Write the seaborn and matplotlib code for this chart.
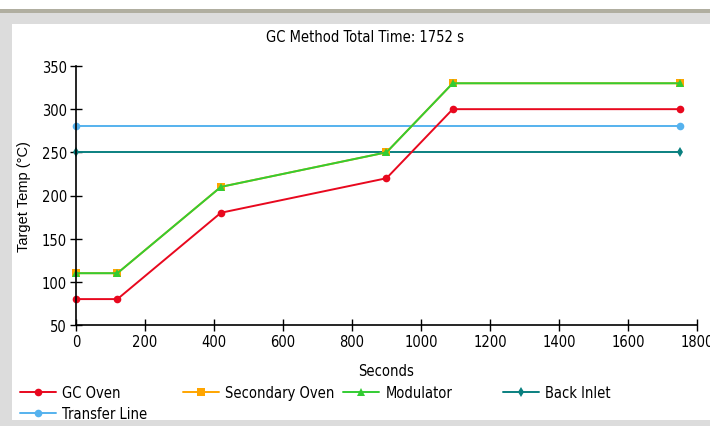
import matplotlib
matplotlib.use("Agg")
import matplotlib.pyplot as plt
import seaborn as sns
import pandas as pd
from matplotlib.patches import Rectangle
from matplotlib import font_manager as fm

# ---- data ----
title = "GC Method Total Time: 1752 s"
series_names = ["GC Oven", "Secondary Oven", "Modulator", "Back Inlet", "Transfer Line"]
oven_time = [0, 120, 420, 900, 1092, 1752]
gc_oven = [80, 80, 180, 220, 300, 300]
secondary_oven = [110, 110, 210, 250, 330, 330]
modulator = [110, 110, 210, 250, 330, 330]
inlet_time = [0, 1752]
back_inlet = [250, 250]
transfer_line = [280, 280]
x_ticks = [0, 200, 400, 600, 800, 1000, 1200, 1400, 1600, 1800]
y_ticks = [50, 100, 150, 200, 250, 300, 350]

colors = {"GC Oven": "#e8081e", "Secondary Oven": "#ffa500", "Modulator": "#33cc33",
          "Back Inlet": "#0a8080", "Transfer Line": "#55b2ee"}
markers = {"GC Oven": "o", "Secondary Oven": "s", "Modulator": "^",
           "Back Inlet": "d", "Transfer Line": "o"}
msize = {"GC Oven": 5.5, "Secondary Oven": 5.5, "Modulator": 5.5,
         "Back Inlet": 5, "Transfer Line": 5.5}

data = {
    "GC Oven": (oven_time, gc_oven),
    "Secondary Oven": (oven_time, secondary_oven),
    "Modulator": (oven_time, modulator),
    "Back Inlet": (inlet_time, back_inlet),
    "Transfer Line": (inlet_time, transfer_line),
}

sns.set_theme(style="white")
names = {f.name for f in fm.fontManager.ttflist}
if "Liberation Sans Narrow" in names:
    plt.rcParams["font.family"] = ["Liberation Sans Narrow", "DejaVu Sans"]
else:
    plt.rcParams["font.family"] = ["DejaVu Sans"]
    plt.rcParams["font.stretch"] = "condensed"

fig = plt.figure(figsize=(7.1, 4.27), dpi=100)
# window frame decorations
fig.patches.append(Rectangle((0, 1 - 25/427), 1, 15/427, transform=fig.transFigure,
                             facecolor="#dcdcdc", edgecolor="none", zorder=0))
fig.patches.append(Rectangle((0, 1 - 14/427), 1, 4/427, transform=fig.transFigure,
                             facecolor="#b0aea0", edgecolor="none", zorder=0))
fig.patches.append(Rectangle((0, 0), 12/710, 1 - 14/427, transform=fig.transFigure,
                             facecolor="#dcdcdc", edgecolor="none", zorder=0))
fig.patches.append(Rectangle((0, 0), 1, 6/427, transform=fig.transFigure,
                             facecolor="#dcdcdc", edgecolor="none", zorder=0))

ax = fig.add_axes([76/710, 1 - 326/427, 621/710, 259/427])
ax.set_facecolor("none")

order = ["Transfer Line", "Back Inlet", "GC Oven", "Secondary Oven", "Modulator"]
handles = {}
for name in order:
    xs, ys = data[name]
    df = pd.DataFrame({"x": xs, "y": ys})
    sns.lineplot(data=df, x="x", y="y", ax=ax, color=colors[name],
                 marker=markers[name], markersize=msize[name],
                 markeredgewidth=0, linewidth=1.4, label=name,
                 clip_on=False, legend=False)
    handles[name] = ax.lines[-1]

ax.set_xlim(0, 1800)
ax.set_ylim(50, 350)
ax.set_xticks(x_ticks)
ax.set_yticks(y_ticks)
ax.tick_params(axis="both", which="both", direction="inout", length=9, width=1,
               color="#000000", labelsize=10.5, labelcolor="#000000", pad=2,
               left=True, bottom=True)
for s in ["top", "right"]:
    ax.spines[s].set_visible(False)
for s in ["left", "bottom"]:
    ax.spines[s].set_color("#000000")
    ax.spines[s].set_linewidth(1.2)

ax.set_xlabel("Seconds", fontsize=10.5, color="#000000", labelpad=10)
ax.set_ylabel("Target Temp (°C)", fontsize=10.5, color="#000000",
              family=["Liberation Sans", "DejaVu Sans"], stretch="normal", labelpad=8)
fig.text(365/710, 1 - 38/427, title, ha="center", va="center",
         fontsize=10.5, color="#000000")

# legend columns placed at fixed x positions (row-major as in reference)
columns = [(["GC Oven", "Transfer Line"], 20), (["Secondary Oven"], 183),
           (["Modulator"], 343), (["Back Inlet"], 503)]
for labels, xpix in columns:
    leg = fig.legend([handles[n] for n in labels], labels,
                     loc="upper left", bbox_to_anchor=(xpix/710, 1 - 386/427),
                     ncol=1, frameon=False, fontsize=10.5, handlelength=2.5,
                     handletextpad=0.4, labelspacing=0.4,
                     borderaxespad=0, borderpad=0)
    for t in leg.get_texts():
        t.set_color("#000000")

fig.savefig("out.png", dpi=100)
